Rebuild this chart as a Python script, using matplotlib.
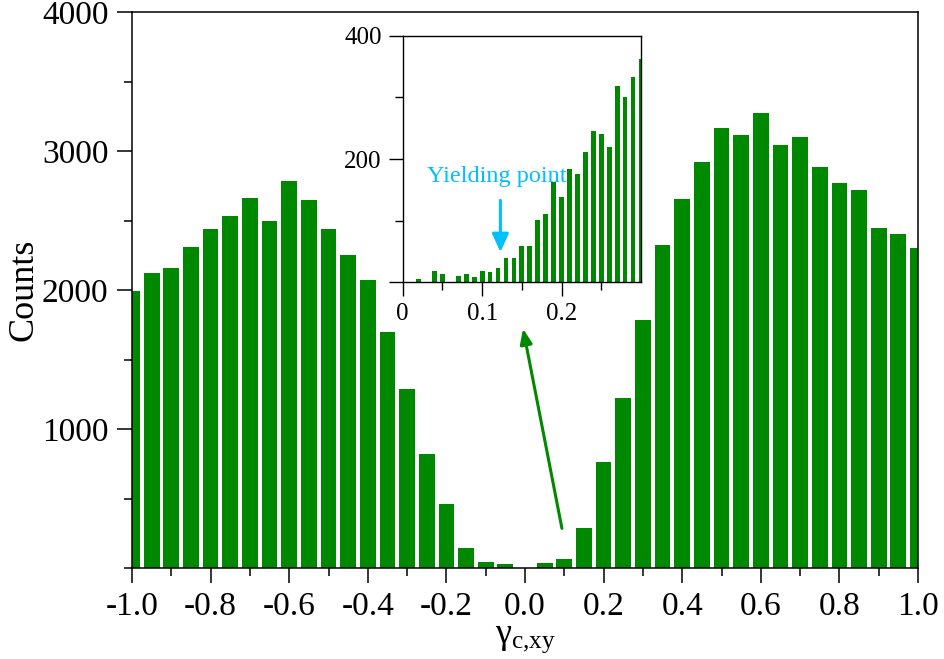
import matplotlib
matplotlib.use('Agg')
import matplotlib.pyplot as plt
import numpy as np

plt.rcParams['font.family'] = ['Liberation Serif', 'DejaVu Serif']
plt.rcParams['mathtext.fontset'] = 'custom'
plt.rcParams['mathtext.rm'] = 'Liberation Serif'
plt.rcParams['mathtext.it'] = 'Liberation Serif:italic'

green = '#008800'
cyan = '#00c0ff'

# main histogram, bins centred every 0.05 from -1.0 to 1.0
gamma = np.round(np.arange(-1.0, 1.0001, 0.05), 2)
counts = [1990, 2125, 2155, 2310, 2440, 2535, 2665, 2500, 2785, 2650,
          2440, 2255, 2070, 1700, 1285, 817, 458, 142, 41, 27,
          0, 34, 62, 285, 759, 1226, 1786, 2325, 2656, 2922,
          3166, 3116, 3274, 3044, 3101, 2885, 2770, 2719, 2445, 2402,
          2302]

# inset histogram, bins every 0.01 from 0.01 to 0.30
gamma_in = np.round(np.arange(0.01, 0.3001, 0.01), 2)
counts_in = [0, 5, 0, 18, 13, 0, 10, 13, 8, 18,
             16, 23, 40, 40, 59, 59, 101, 111, 163, 138,
             184, 175, 212, 246, 240, 220, 318, 300, 333, 363]

xt_main = ['-1.0', '-0.8', '-0.6', '-0.4', '-0.2', '0.0',
           '0.2', '0.4', '0.6', '0.8', '1.0']

fig = plt.figure(figsize=(9.45, 6.59), dpi=100)
ax = fig.add_axes([132/945, 1 - 568/659, (918 - 132)/945, (568 - 12)/659])

ax.bar(gamma, counts, width=0.04, color=green)
ax.set_xlim(-1.0, 1.0)
ax.set_ylim(0, 4000)
ax.set_xticks(np.round(np.arange(-1.0, 1.01, 0.2), 1))
ax.set_xticks(np.round(np.arange(-0.9, 1.0, 0.2), 1), minor=True)
ax.set_xticklabels(xt_main)
ax.set_yticks([1000, 2000, 3000, 4000])
ax.set_yticks([0, 500, 1500, 2500, 3500], minor=True)
ax.tick_params(which='major', length=11, width=1.1, labelsize=24, pad=6)
ax.tick_params(which='minor', length=5.5, width=1.1)
for s in ax.spines.values():
    s.set_linewidth(1.1)
ax.set_ylabel('Counts', fontsize=26, labelpad=1)
ax.set_xlabel('γ$_\\mathrm{c{,}xy}$', fontsize=26, labelpad=0)

ax.annotate('', xy=(-0.005, 1722), xytext=(0.094, 285),
            arrowprops=dict(arrowstyle='-|>,head_length=0.45,head_width=0.18',
                            mutation_scale=20, color=green, lw=2.2,
                            shrinkA=0, shrinkB=0))

# inset
ins = fig.add_axes([402.7/945, 1 - 282.3/659, (641 - 402.7)/945, (282.3 - 35.7)/659])
ins.set_facecolor('white')
ins.bar(gamma_in, counts_in, width=0.006, color=green)
ins.set_xlim(0, 0.3)
ins.set_ylim(0, 400)
ins.set_xticks([0, 0.1, 0.2])
ins.set_xticklabels(['0', '0.1', '0.2'])
ins.set_xticks([0.05, 0.15, 0.25], minor=True)
ins.set_yticks([0, 200, 400])
ins.set_yticklabels(['', '200', '400'])
ins.set_yticks([100, 300], minor=True)
ins.tick_params(which='major', length=10, width=1.0, labelsize=18, pad=5)
ins.tick_params(which='minor', length=6, width=1.0)
for s in ins.spines.values():
    s.set_linewidth(1.0)

ins.text(0.118, 163, 'Yielding point', color=cyan, fontsize=17.5,
         ha='center', va='baseline')
ins.annotate('', xy=(0.123, 49), xytext=(0.123, 133),
             arrowprops=dict(arrowstyle='-|>,head_length=0.55,head_width=0.25',
                             mutation_scale=20, color=cyan, lw=2.2,
                             shrinkA=0, shrinkB=0))

fig.savefig('out.png', dpi=100)
